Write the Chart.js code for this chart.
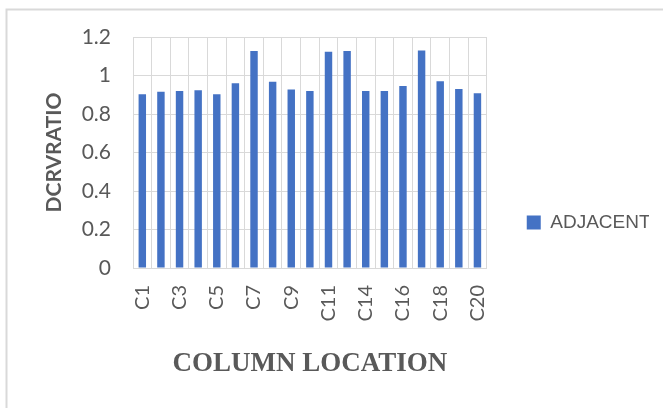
<!DOCTYPE html>
<html><head><meta charset="utf-8">
<script src="https://cdn.jsdelivr.net/npm/chart.js@4"></script>
<style>html,body{margin:0;padding:0;background:#fff}</style>
</head><body>
<canvas id="c" width="663" height="408"></canvas>
<script>
const categories = ['C1','C2','C3','C4','C5','C6','C7','C8','C9','C10','C11','C12','C14','C15','C16','C17','C18','C19','C20'];
const adjacent = [0.902, 0.916, 0.920, 0.923, 0.902, 0.960, 1.127, 0.967, 0.927, 0.920, 1.123, 1.127, 0.920, 0.920, 0.946, 1.130, 0.970, 0.930, 0.908];
const xTickLabels = ['C1','','C3','','C5','','C7','','C9','','C11','','C14','','C16','','C18','','C20'];
const yTickLabels = ['0','0.2','0.4','0.6','0.8','1','1.2'];
const seriesName = 'ADJACENT';
const xTitle = 'COLUMN LOCATION';
const yTitle = 'DCRVRATIO';

const frame = {
  id: 'frame',
  beforeDraw(chart) {
    const c = chart.ctx;
    c.save();
    c.fillStyle = '#ffffff';
    c.fillRect(0, 0, chart.width, chart.height);
    c.strokeStyle = '#d9d9d9';
    c.lineWidth = 2;
    c.beginPath();
    c.moveTo(6.5, chart.height);
    c.lineTo(6.5, 9.5);
    c.lineTo(chart.width, 9.5);
    c.stroke();
    c.restore();
  }
};

new Chart(document.getElementById('c'), {
  type: 'bar',
  data: {
    labels: categories,
    datasets: [{
      label: seriesName,
      data: adjacent,
      backgroundColor: '#4472C4',
      borderWidth: 0,
      barPercentage: 0.4,
      categoryPercentage: 1
    }]
  },
  options: {
    responsive: false,
    animation: false,
    devicePixelRatio: 1,
    layout: { padding: { left: 0, right: 14, top: 37, bottom: 0 } },
    plugins: {
      legend: {
        position: 'right',
        labels: {
          boxWidth: 14, boxHeight: 14, padding: 40,
          color: '#595959',
          font: { family: 'Liberation Sans', size: 19 }
        }
      },
      tooltip: { enabled: false }
    },
    scales: {
      x: {
        grid: { color: '#d9d9d9', lineWidth: 1, drawTicks: false, offset: true },
        border: { color: '#d9d9d9', width: 1 },
        ticks: {
          autoSkip: false, minRotation: 90, maxRotation: 90, padding: 17,
          color: '#595959',
          font: { family: 'Lato', size: 20 },
          callback: (v, i) => xTickLabels[i]
        },
        title: {
          display: true, text: xTitle, color: '#595959',
          font: { family: 'Liberation Serif', size: 27, weight: 'bold' },
          padding: { top: 0, bottom: 28 }
        },
        afterFit: (s) => { s.height = 140; }
      },
      y: {
        min: 0, max: 1.2,
        grid: { color: '#d9d9d9', lineWidth: 1, drawTicks: false },
        border: { color: '#d9d9d9', width: 1 },
        ticks: {
          stepSize: 0.2, padding: 22,
          color: '#595959',
          font: { family: 'Lato', size: 21 },
          callback: (v, i) => yTickLabels[i]
        },
        title: {
          display: true, text: yTitle, color: '#595959',
          font: { family: 'Lato', size: 21, weight: 'bold' },
          padding: { top: 42, bottom: 0 }
        },
        afterFit: (s) => { s.width = 133; }
      }
    }
  },
  plugins: [frame]
});
</script>
</body></html>
